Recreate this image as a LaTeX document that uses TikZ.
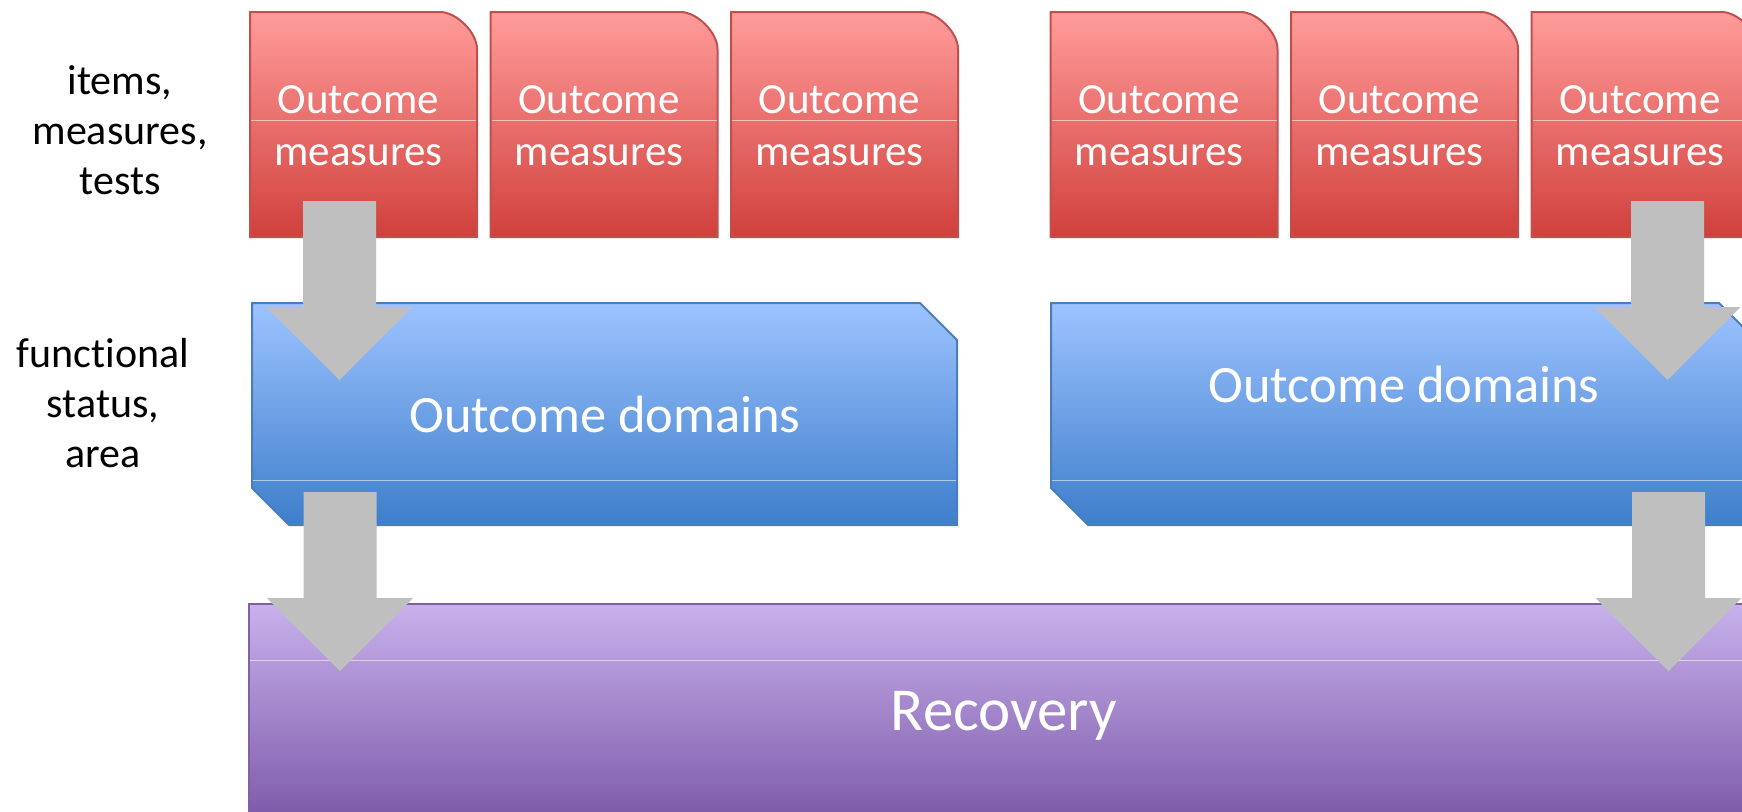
\documentclass[tikz,border=0pt]{standalone}
\usepackage{fontspec}
\setmainfont{Carlito}[Ligatures=NoCommon]
\usetikzlibrary{calc}
\definecolor{redtop}{HTML}{FF9C9A}
\definecolor{redmid}{HTML}{F08784}
\definecolor{redbot}{HTML}{D0403C}
\definecolor{redline}{HTML}{C0504D}
\definecolor{bluetop}{HTML}{9DC3FF}
\definecolor{bluemid}{HTML}{82ABEE}
\definecolor{bluebot}{HTML}{3E7ECB}
\definecolor{blueline}{HTML}{4A7EBB}
\definecolor{purptop}{HTML}{C8B1EC}
\definecolor{purpmid}{HTML}{AA8FD3}
\definecolor{purpbot}{HTML}{7D5AA9}
\definecolor{purpline}{HTML}{7E62A1}
\definecolor{arrowgray}{HTML}{BFBFBF}
\tikzset{
  redbox/.style={draw=redline, line width=1pt, top color=redtop, middle color=redmid, bottom color=redbot},
  bluebox/.style={draw=blueline, line width=1pt, top color=bluetop, middle color=bluemid, bottom color=bluebot},
  purpbox/.style={draw=purpline, line width=1pt, top color=purptop, middle color=purpmid, bottom color=purpbot},
  gloss/.style={draw=white, draw opacity=0.55, line width=0.5pt},
  boxtext/.style={text=white, inner sep=0pt, align=center, anchor=base,
    font=\fontsize{21.5pt}{26pt}\selectfont},
  sidetext/.style={text=black, inner sep=0pt, align=center, anchor=base,
    font=\fontsize{21pt}{25pt}\selectfont},
  blockarrow/.pic={
    \fill[arrowgray] (-18.25pt,0) -- (18.25pt,0) -- (18.25pt,-53pt) -- (36.5pt,-53pt)
      -- (0,-89.5pt) -- (-36.5pt,-53pt) -- (-18.25pt,-53pt) -- cycle;
  }
}
\begin{document}
\begin{tikzpicture}[x=0.5pt, y=-0.5pt]
\useasboundingbox (0,0) rectangle (1742,811);
\clip (0,0) rectangle (1742,811);

% ---- side labels (anchor = baseline of last line)
\node[sidetext] (lab1) at (120,194) {items,\\measures,\\tests};
\node[sidetext] (lab2) at (103,467) {functional\\status,\\area};

% ---- red outcome-measure boxes
\foreach \i/\x in {1/250, 2/490.5, 3/731, 4/1050.5, 5/1291, 6/1531.5}{
  \path[redbox] (\x,237) -- (\x,12) -- ({\x+190},12)
     .. controls ({\x+206.5},12) and ({\x+227},32.5) .. ({\x+227},49)
     -- ({\x+227},237) -- cycle;
  \draw[gloss] ({\x+1},120) -- ({\x+226},120);
  \node[boxtext] (m\i) at ({\x+108.5},165) {Outcome\\measures};
}

% ---- blue outcome-domain boxes
\foreach \i/\x in {1/252, 2/1051}{
  \path[bluebox] (\x,303) -- ({\x+668},303) -- ({\x+705},340) -- ({\x+705},525)
     -- ({\x+37},525) -- (\x,488) -- cycle;
  \draw[gloss] ({\x+1},480) -- ({\x+704},480);
}
\node[boxtext, font=\fontsize{26.25pt}{31pt}\selectfont] (d1) at (605,432) {Outcome domains};
\node[boxtext, font=\fontsize{26.25pt}{31pt}\selectfont] (d2) at (1404,402) {Outcome domains};

% ---- purple recovery box
\path[purpbox] (249,604) rectangle (1759,818);
\draw[gloss] (250,660) -- (1758,660);
\node[boxtext, font=\fontsize{30.5pt}{36pt}\selectfont] (rec) at (1004,730) {Recovery};

% ---- block arrows
\coordinate (a1) at (339.5,201);
\coordinate (a2) at (1667.5,201);
\coordinate (a3) at (340,492);
\coordinate (a4) at (1668.5,492);
\pic at (a1) {blockarrow};
\pic at (a2) {blockarrow};
\pic at (a3) {blockarrow};
\pic at (a4) {blockarrow};
\end{tikzpicture}
\end{document}
